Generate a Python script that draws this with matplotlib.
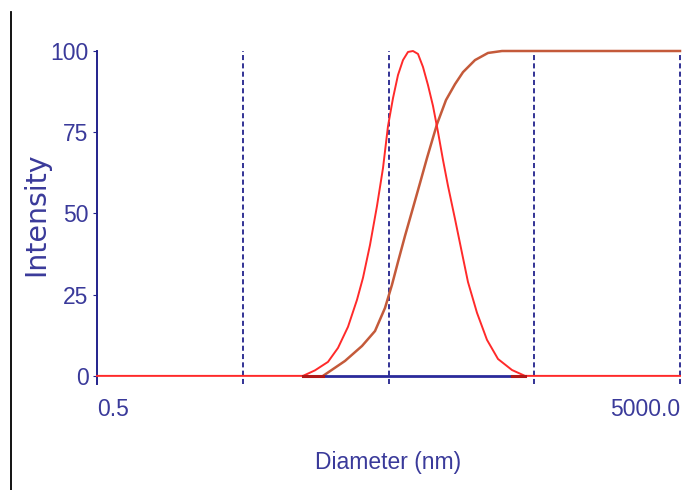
import matplotlib
matplotlib.use("Agg")
import matplotlib.pyplot as plt
from matplotlib.lines import Line2D
from matplotlib import font_manager

# narrow font if there is one, else Liberation Sans
try:
    font_manager.findfont('Liberation Sans Narrow', fallback_to_default=False)
    tick_font = ['Liberation Sans Narrow', 'DejaVu Sans']
except ValueError:
    tick_font = ['Liberation Sans', 'DejaVu Sans']
plt.rcParams['font.family'] = tick_font

# intensity distribution
red_d = [0.5, 12.95, 15.65, 19.22, 22.51, 26.37, 30.39, 33.42, 37.33, 41.69, 45.85, 49.61,
         53.69, 58.09, 62.86, 68.02, 73.6, 79.65, 86.19, 93.3, 100.97, 109.27, 118.23,
         127.96, 142.96, 159.7, 175.5, 202.4, 236.9, 282.0, 351.8, 432.0, 5000]
red_v = [0, 0, 1.7, 4.3, 8.6, 15.1, 23.4, 30.2, 40.3, 52.3, 64.0, 76.9,
         85.5, 92.6, 97.2, 99.7, 100, 99.1, 95.1, 89.5, 83.1, 75.1, 66.5,
         58.5, 48.3, 37.8, 28.9, 19.4, 11.1, 5.2, 1.8, 0, 0]

# cumulative curve
cum_d = [17.77, 25.15, 32.9, 40.4, 47.3, 52.8, 58.1, 64.9, 73.6, 82.3, 91.9, 107.6,
         124.0, 143.0, 162.3, 196.1, 240.8, 300.5, 5000]
cum_v = [0, 4.6, 9.2, 13.8, 20.9, 28.0, 35.1, 43.1, 51.7, 59.4, 67.1, 77.5,
         84.9, 89.8, 93.5, 97.2, 99.4, 100, 100]

base_d = [17.77, 432]
edge_lo = [12.95, 17.77]
edge_hi = [351.8, 432]
grid_d = [5, 50, 500, 5000]
yticks = [0, 25, 50, 75, 100]
xticks = [0.5, 5000]
xtick_labels = ['0.5', '5000.0']

txt = '#3a3a9a'
navy = '#22228c'

fig = plt.figure(figsize=(6.82, 4.90), dpi=100)
ax = fig.add_axes([97/682, 1-384/490, 583/682, 333/490])
ax.set_xscale('log')
ax.set_xlim(0.5, 5000)
ax.set_ylim(-2.5, 100)

for d in grid_d:
    ax.plot([d, d], [-2.5, 100], color=navy, lw=1.3, ls=(0, (2.8, 1.8)),
            zorder=1, clip_on=False)

ax.plot(red_d, red_v, color='#ff2a2a', lw=1.4, zorder=3, clip_on=False)
ax.plot(base_d, [0, 0], color='#2a2a9a', lw=2.0, zorder=4)
ax.plot(edge_lo, [0, 0], color='#b01818', lw=2.2, zorder=4)
ax.plot(edge_hi, [0, 0], color='#b01818', lw=2.2, zorder=4)
ax.plot(cum_d, cum_v, color='#c45a3a', lw=1.8, zorder=2, clip_on=False)

for s in ['top', 'right', 'bottom']:
    ax.spines[s].set_visible(False)
ax.spines['left'].set_color(navy)
ax.spines['left'].set_linewidth(1.4)

ax.set_yticks(yticks)
ax.set_yticklabels([str(v) for v in yticks])
ax.tick_params(axis='y', length=3, color=navy, labelcolor=txt, labelsize=16.5, pad=3)

ax.set_xticks(xticks)
ax.set_xticklabels(xtick_labels)
ax.xaxis.set_minor_locator(matplotlib.ticker.NullLocator())
ax.tick_params(axis='x', length=0, labelcolor=txt, labelsize=16.5, pad=10)
xl = ax.get_xticklabels()
xl[0].set_horizontalalignment('left')
xl[1].set_horizontalalignment('right')

fig.text(388/682, 1-462/490, 'Diameter (nm)', fontsize=16.5, color=txt,
         ha='center', va='center')
fig.text(36/682, 1-214/490, 'Intensity', fontsize=20.5, color=txt,
         ha='center', va='center', rotation=90, family=['DejaVu Sans'])

fig.add_artist(Line2D([11/682, 11/682], [0, 1-12/490], color='black', lw=1.3))

fig.savefig('out.png', dpi=100)
